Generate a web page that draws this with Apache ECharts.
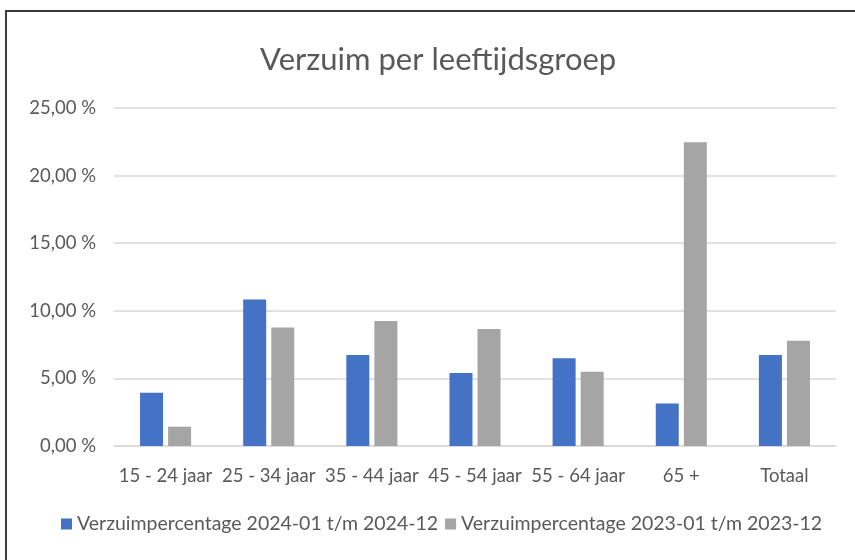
<!DOCTYPE html>
<html>
<head>
<meta charset="utf-8">
<script src="https://cdn.jsdelivr.net/npm/echarts@6/dist/echarts.min.js"></script>
<style>
  html, body { margin: 0; padding: 0; background: #fff; }
  #frame {
    position: absolute; left: 5px; top: 10px; right: -10px; bottom: -10px;
    border-top: 2px solid #3c3c3c; border-left: 2px solid #3c3c3c;
    pointer-events: none;
  }
  #chart { width: 855px; height: 560px; }
</style>
</head>
<body>
<div id="chart"></div>
<div id="frame"></div>
<script>
// leeftijdsgroepen + verzuimpercentages (gelezen uit de afbeelding)
const categories = ['15 - 24 jaar', '25 - 34 jaar', '35 - 44 jaar', '45 - 54 jaar', '55 - 64 jaar', '65 +', 'Totaal']
const verzuim2024 = [3.94, 10.83, 6.73, 5.40, 6.49, 3.15, 6.74]
const verzuim2023 = [1.43, 8.76, 9.25, 8.65, 5.49, 22.46, 7.78]
const seriesNames = ['Verzuimpercentage 2024-01 t/m 2024-12', 'Verzuimpercentage 2023-01 t/m 2023-12']

const font = 'Lato, "Open Sans", sans-serif'
const textColor = '#595959'

const chart = echarts.init(document.getElementById('chart'))
const option = {
  animation: false,
  title: {
    text: 'Verzuim per leeftijdsgroep',
    left: 255,
    top: 39,
    textStyle: { fontFamily: font, fontSize: 31, fontWeight: 'normal', color: textColor },
  },
  legend: {
    bottom: 21,
    left: 56,
    itemWidth: 11,
    itemHeight: 11,
    itemGap: 7,
    icon: 'rect',
    textStyle: { fontFamily: font, fontSize: 19.5, color: textColor },
    data: seriesNames,
  },
  grid: { left: 114, right: 19, top: 108, bottom: 114 },
  xAxis: {
    type: 'category',
    data: categories,
    axisLine: { lineStyle: { color: '#d9d9d9', width: 1.5 } },
    axisTick: { show: false },
    axisLabel: { fontFamily: font, fontSize: 18.5, color: textColor, margin: 21, interval: 0 },
  },
  yAxis: {
    type: 'value',
    min: 0,
    max: 25,
    interval: 5,
    axisLine: { show: false },
    axisTick: { show: false },
    splitLine: { lineStyle: { color: '#d9d9d9', width: 1.5 } },
    axisLabel: {
      fontFamily: font, fontSize: 18.5, color: textColor, margin: 18,
      formatter: v => v.toFixed(2).replace('.', ',') + ' %',
    },
  },
  series: [
    {
      name: seriesNames[0],
      type: 'bar',
      data: verzuim2024,
      barWidth: 23,
      barGap: '22%',
      itemStyle: { color: '#4472c4' },
    },
    {
      name: seriesNames[1],
      type: 'bar',
      data: verzuim2023,
      barWidth: 23,
      itemStyle: { color: '#a5a5a5' },
    },
  ],
}
chart.setOption(option)
</script>
</body>
</html>
